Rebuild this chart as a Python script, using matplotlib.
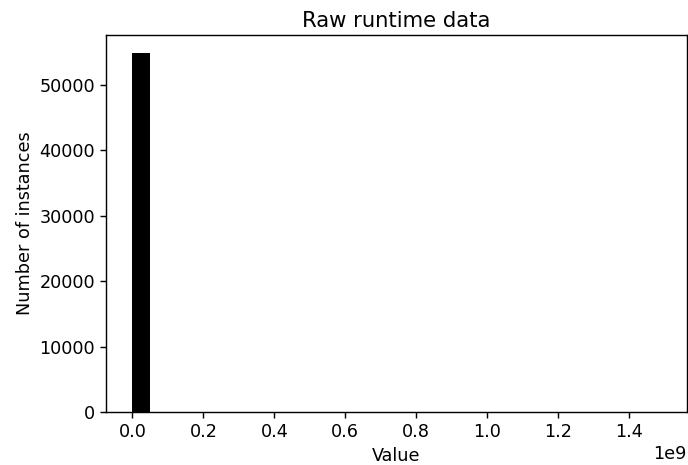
import matplotlib
matplotlib.use("Agg")
import matplotlib.pyplot as plt
import numpy as np

# histogram of raw runtimes: 30 bins over [0, ~1.488e9]
bin_lo = 0.0
bin_hi = 1.488e9
n_bins = 30
counts = [54900, 3, 1, 0, 0, 0, 0, 0, 0, 0,
          0, 0, 0, 0, 0, 0, 0, 0, 0, 0,
          0, 0, 0, 0, 0, 0, 0, 0, 0, 1]

edges = np.linspace(bin_lo, bin_hi, n_bins + 1)

s = 1.27  # the original was rendered larger than default
plt.rcParams.update({
    "font.size": 10 * s,
    "axes.linewidth": 0.8 * s,
    "xtick.major.width": 0.8 * s,
    "ytick.major.width": 0.8 * s,
    "xtick.major.size": 3.5 * s,
    "ytick.major.size": 3.5 * s,
})

fig = plt.figure(figsize=(6.88, 4.65), dpi=100)
ax = fig.add_axes([0.154, 0.114, 0.8445, 0.8106])
ax.hist(edges[:-1], bins=edges, weights=counts, color="black")
ax.set_title("Raw runtime data", fontsize=12 * s)
ax.set_xlabel("Value")
ax.set_ylabel("Number of instances")

fig.savefig("out.png", dpi=100)
